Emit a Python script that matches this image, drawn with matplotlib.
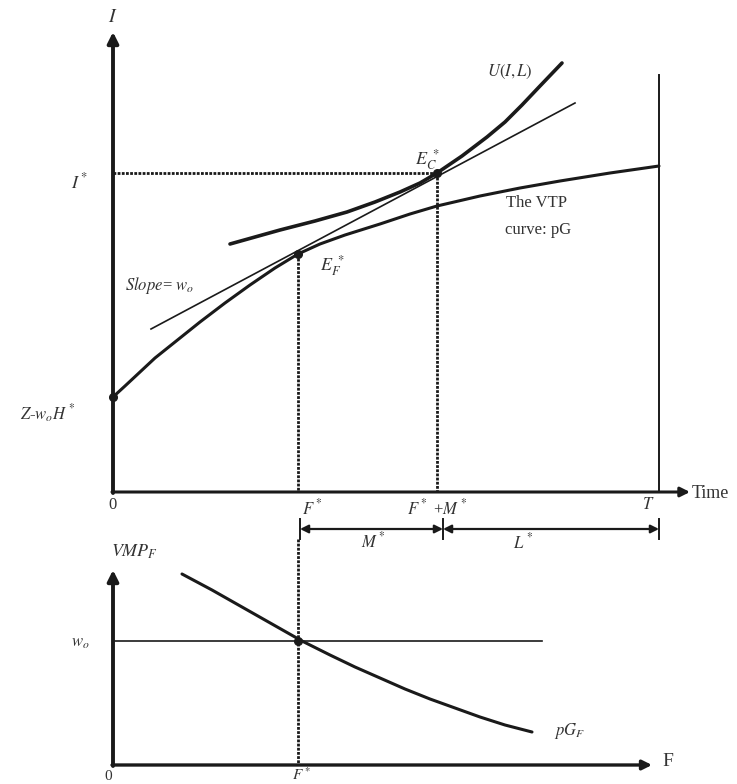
import matplotlib
matplotlib.use("Agg")
import matplotlib.pyplot as plt

plt.rcParams["font.family"] = ["Liberation Serif", "DejaVu Serif"]
plt.rcParams["mathtext.fontset"] = "stix"

# --- values (pixel-like diagram units, y grows downwards) ---
# top panel: VTP curve pG (concave)
vtp_x = [113, 125, 140, 155, 175, 200, 225, 250, 275, 298, 320, 345, 380, 410, 437, 480, 520, 560, 610, 659]
vtp_y = [397, 386, 372, 358, 342, 322, 303, 285, 268, 254, 244, 235, 224, 214, 206, 196, 188, 181, 173, 166]
# indifference curve U(I,L)
u_x = [230, 255, 280, 315, 347, 375, 400, 420, 437, 462, 487, 505, 522, 540, 562]
u_y = [244, 237, 230, 221, 212, 202, 192, 183, 173, 156, 137, 122, 105, 86, 63]
# budget line, slope = w_o
budget_x = [151, 575]
budget_y = [329, 103]
# equilibrium points
ef = (298, 254)
ec = (437, 173)
z_point = (113, 397)
# bottom panel: pG_F curve
vmp_x = [182, 212, 242, 272, 302, 330, 355, 380, 405, 430, 455, 480, 505, 532]
vmp_y = [574, 590, 607, 624, 641, 655, 667, 678, 689, 699, 708, 717, 725, 732]
wo_level = 641
wo_end = 542

# axes positions
top_origin = (113, 492)
top_ytip = 32
top_xtip = 690
T_x = 659
T_top = 75
bot_origin = (113, 765)
bot_ytip = 570
bot_xtip = 652
arrow_row = 529
tick_mid = 443

ink = "#1a1a1a"
txt = "#333333"

fig = plt.figure(figsize=(7.37, 7.84), dpi=100)
ax = fig.add_axes([0, 0, 1, 1])
ax.set_xlim(0, 737)
ax.set_ylim(784, 0)
ax.axis("off")

def axis_arrow(x0, y0, x1, y1, lw=2.8, ms=16):
    ax.annotate("", xy=(x1, y1), xytext=(x0, y0),
                arrowprops=dict(arrowstyle="-|>", lw=lw, color=ink,
                                mutation_scale=ms, shrinkA=0, shrinkB=0))

# ---------- top panel ----------
axis_arrow(top_origin[0], top_origin[1] + 1, top_origin[0], top_ytip)
axis_arrow(top_origin[0] - 1, top_origin[1], top_xtip, top_origin[1], lw=2.2, ms=14)
ax.plot([T_x, T_x], [top_origin[1], T_top], color=ink, lw=1.4)

dash = dict(color=ink, lw=2.0, ls=(0, (1.0, 0.5)))
ax.plot([top_origin[0], ec[0]], [ec[1], ec[1]], **dash)
ax.plot([ef[0], ef[0]], [ef[1], top_origin[1]], **dash)
ax.plot([ec[0], ec[0]], [ec[1], top_origin[1]], **dash)

ax.plot(budget_x, budget_y, color=ink, lw=1.2)
ax.plot(vtp_x, vtp_y, color=ink, lw=2.2, solid_capstyle="round", solid_joinstyle="round")
ax.plot(u_x, u_y, color=ink, lw=2.6, solid_capstyle="round", solid_joinstyle="round")
ax.plot([z_point[0], ef[0], ec[0]], [z_point[1], ef[1], ec[1]], "o",
        color=ink, ms=5.5, ls="none")

ax.text(113, 17, r"$I$", fontsize=14, color=txt, ha="center", va="center")
ax.text(80, 182, r"$I^*$", fontsize=13, color=txt, ha="center", va="center")
ax.text(48, 414, r"$Z$-$w_oH^*$", fontsize=12, color=txt, ha="center", va="center")
ax.text(125, 285, r"$Slope$= $w_o$", fontsize=12, color=txt, ha="left", va="center")
ax.text(333, 266, r"$E_F^{\ *}$", fontsize=13, color=txt, ha="center", va="center")
ax.text(428, 160, r"$E_C^{\ *}$", fontsize=13, color=txt, ha="center", va="center")
ax.text(510, 72, r"$U(I,L)$", fontsize=12, color=txt, ha="center", va="center")
ax.text(506, 203, "The VTP", fontsize=12, color=txt, ha="left", va="center")
ax.text(505, 230, "curve: pG", fontsize=12, color=txt, ha="left", va="center")

ax.text(113, 505, "0", fontsize=12, color=txt, ha="center", va="center")
ax.text(312, 508, r"$F^*$", fontsize=12, color=txt, ha="center", va="center")
ax.text(437, 508, r"$F^*$ +$M^*$", fontsize=12, color=txt, ha="center", va="center")
ax.text(648, 505, r"$T$", fontsize=12, color=txt, ha="center", va="center")
ax.text(692, 493, "Time", fontsize=13, color=txt, ha="left", va="center")

# double arrows M*, L*
for xa, xb in [(ef[0] + 2, tick_mid), (tick_mid, T_x)]:
    ax.annotate("", xy=(xb, arrow_row), xytext=(xa, arrow_row),
                arrowprops=dict(arrowstyle="<|-|>", lw=1.6, color=ink,
                                mutation_scale=12, shrinkA=0, shrinkB=0))
for xt in [ef[0] + 2, tick_mid, T_x]:
    ax.plot([xt, xt], [arrow_row - 10, arrow_row + 10], color=ink, lw=1.4)
ax.text(373, 541, r"$M^*$", fontsize=12, color=txt, ha="center", va="center")
ax.text(523, 542, r"$L^*$", fontsize=12, color=txt, ha="center", va="center")

# ---------- bottom panel ----------
ax.plot([ef[0], ef[0]], [arrow_row + 10, bot_origin[1]], **dash)
axis_arrow(bot_origin[0], bot_origin[1] + 1, bot_origin[0], bot_ytip)
axis_arrow(bot_origin[0] - 1, bot_origin[1], bot_xtip, bot_origin[1], lw=2.4, ms=14)
ax.plot([bot_origin[0], wo_end], [wo_level, wo_level], color=ink, lw=1.2)
ax.plot(vmp_x, vmp_y, color=ink, lw=2.2, solid_capstyle="round", solid_joinstyle="round")
ax.plot([ef[0]], [wo_level], "o", color=ink, ms=5.5)

ax.text(135, 552, r"$VMP_F$", fontsize=13, color=txt, ha="center", va="center")
ax.text(80, 643, r"$w_o$", fontsize=12, color=txt, ha="center", va="center")
ax.text(554, 731, r"$pG_F$", fontsize=12, color=txt, ha="left", va="center")
ax.text(662, 762, "F", fontsize=14, color=txt, ha="left", va="center")
ax.text(108, 776, "0", fontsize=11, color=txt, ha="center", va="center")
ax.text(302, 775, r"$F^*$", fontsize=11, color=txt, ha="center", va="center")

fig.savefig("out.png", dpi=100)
